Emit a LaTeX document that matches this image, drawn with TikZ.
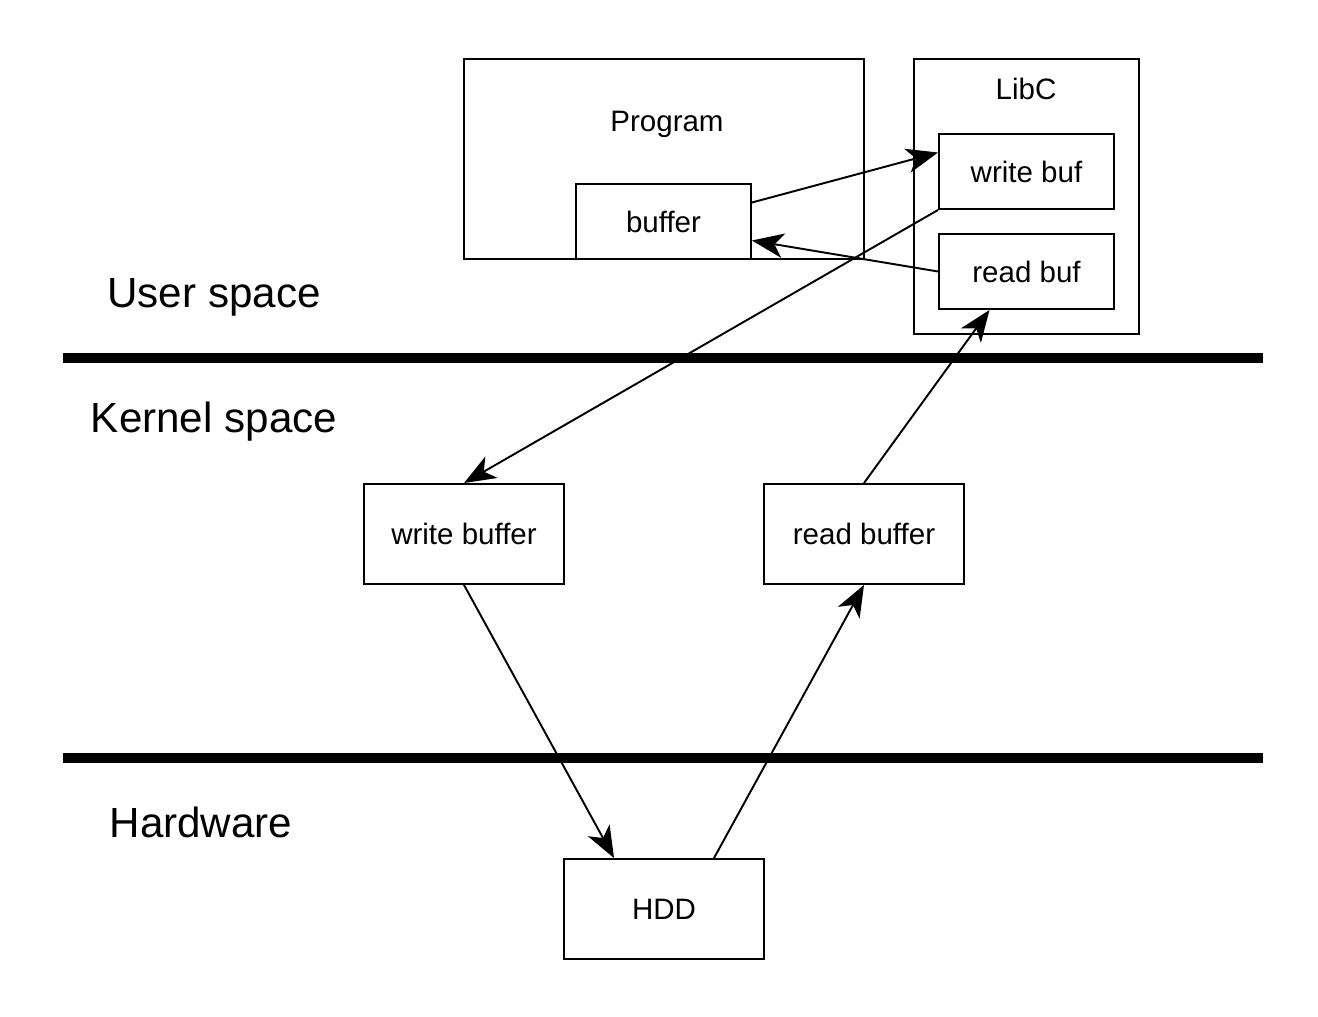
\documentclass[tikz,border=0pt]{standalone}
\usepackage{fontspec}
\setmainfont{Liberation Sans}
\usetikzlibrary{arrows.meta, positioning, calc}

\begin{document}
\begin{tikzpicture}[
  x=0.02cm, y=-0.02cm,
  font=\fontsize{16.8}{20}\selectfont,
  >={Stealth[length=18pt, width=14pt, inset=5pt]},
  box/.style={draw, line width=1.1pt, inner sep=0pt,
              minimum width=#1*0.02cm, minimum height=2cm},
  smallbox/.style={draw, line width=1.1pt, inner sep=0pt,
                   minimum width=3.5cm, minimum height=1.5cm},
  arr/.style={->, line width=1.1pt},
  layer/.style={line width=5.7pt},
  zone/.style={font=\fontsize{24}{28}\selectfont},
]
\useasboundingbox (0,0) rectangle (1318,1017);

%% User space
\node[box=400, minimum height=4cm] (prog) at (664,159) {};
\node (progtxt) at (667,124) {Program};
\node[smallbox] (buf) at (663.5,221.5) {buffer};
\node[box=225, minimum height=5.5cm] (libc) at (1026.5,196.5) {};
\node (libctxt) at (1026,89) {LibC};
\node[smallbox] (wbuf) at (1026.5,171.5) {write buf};
\node[smallbox] (rbuf) at (1026.5,271.5) {read buf};
\node[zone] (user) at (214,297) {User space};

%% Layer borders
\coordinate (l1a) at (63,358);
\coordinate (l1b) at (1263,358);
\coordinate (l2a) at (63,758);
\coordinate (l2b) at (1263,758);
\draw[layer] (l1a) -- (l1b);
\draw[layer] (l2a) -- (l2b);

%% Kernel space
\node[zone] (kernel) at (214,422) {Kernel space};
\node[box=200] (kwbuf) at (464,534) {write buffer};
\node[box=200] (krbuf) at (864,534) {read buffer};

%% Hardware
\node[zone] (hw) at (201,822) {Hardware};
\node[box=200] (hdd) at (664,909) {HDD};

%% Arrows
\draw[arr] ([yshift=0.38cm]buf.east) -- ([yshift=0.38cm]wbuf.west);
\draw[arr] (rbuf.west) -- ([yshift=-0.38cm]buf.east);
\draw[arr] (wbuf.south west) -- (kwbuf.north);
\draw[arr] (krbuf.north) -- ([xshift=-0.74cm]rbuf.south);
\draw[arr] (kwbuf.south) -- ([xshift=-1cm]hdd.north);
\draw[arr] ([xshift=1cm]hdd.north) -- (krbuf.south);

\end{tikzpicture}
\end{document}
